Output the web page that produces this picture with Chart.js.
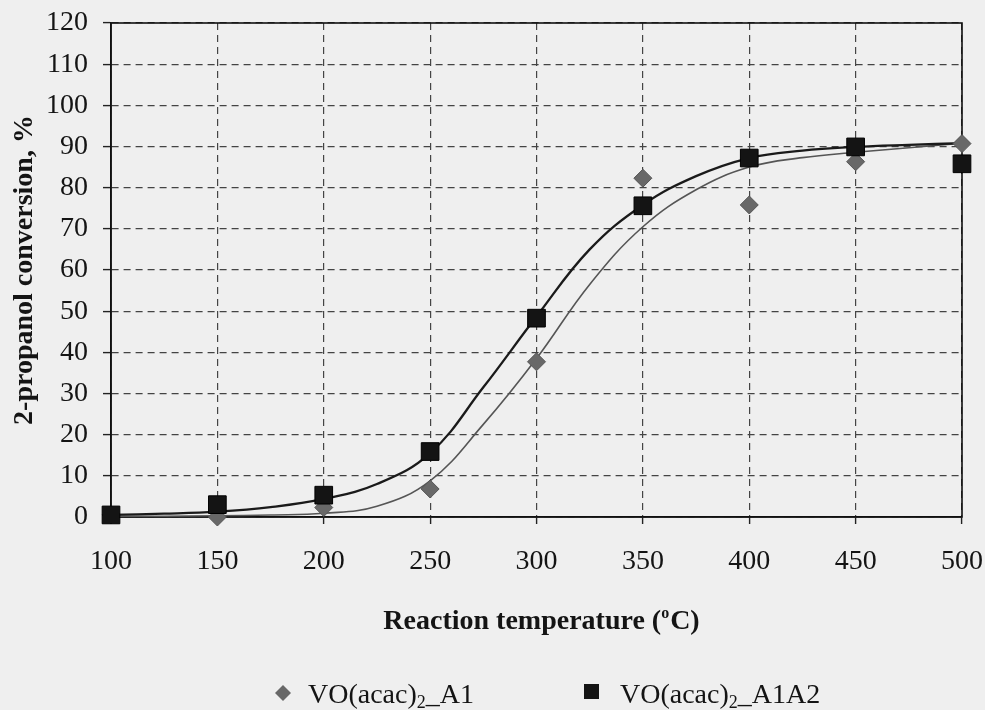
<!DOCTYPE html>
<html>
<head>
<meta charset="utf-8">
<title>2-propanol conversion vs reaction temperature</title>
<script src="https://cdn.jsdelivr.net/npm/chart.js@4.4.1/dist/chart.umd.min.js"></script>
<style>
  html, body { margin: 0; padding: 0; background: #efefef; }
  #wrap { width: 985px; height: 710px; position: relative; }
</style>
</head>
<body>
<div id="wrap"><canvas id="chart" width="985" height="710"></canvas></div>
<script>
// Measured conversions (%) at each reaction temperature (°C)
const temperatures = [100, 150, 200, 250, 300, 350, 400, 450, 500];
const convA1       = [0.5, 0.0, 2.3, 6.8, 37.7, 82.3, 75.8, 86.3, 90.7];
const convA1A2     = [0.5, 3.0, 5.3, 15.9, 48.3, 75.6, 87.2, 89.9, 85.8];

// Fitted trend curves, sampled every 25 °C
const fitTemperatures = [100, 125, 150, 175, 200, 225, 250, 275, 300, 325, 350, 375, 400, 425, 450, 475, 500];
const fitA1   = [0.2, 0.2, 0.3, 0.5, 0.9, 2.6, 8.8, 22.5, 38.5, 56.5, 70.5, 79.5, 85.0, 87.3, 88.6, 89.7, 90.8];
const fitA1A2 = [0.5, 0.8, 1.3, 2.4, 4.4, 8.0, 15.5, 31.5, 48.7, 65.0, 75.8, 82.8, 87.2, 89.0, 89.9, 90.4, 90.8];

// Axis ticks
const xTicks = [100, 150, 200, 250, 300, 350, 400, 450, 500];
const yTicks = [0, 10, 20, 30, 40, 50, 60, 70, 80, 90, 100, 110, 120];

// Series names: main text, subscript, trailing text
const seriesA1   = { main: 'VO(acac)', sub: '2', tail: '_A1' };
const seriesA1A2 = { main: 'VO(acac)', sub: '2', tail: '_A1A2' };

const SERIF = '"Liberation Serif", "Times New Roman", serif';
const INK = '#141414';
const GREY_MARK = '#686868';

const toPoints = (xs, ys) => xs.map((x, i) => ({ x: x, y: ys[i] }));
const fullName = s => s.main + s.sub + s.tail;

// Solid frame around the plot area
const framePlugin = {
  id: 'frame',
  beforeDatasetsDraw(chart) {
    const a = chart.chartArea, ctx = chart.ctx;
    ctx.save();
    ctx.strokeStyle = '#111';
    ctx.lineWidth = 1.6;
    ctx.strokeRect(a.left, a.top, a.right - a.left, a.bottom - a.top);
    ctx.restore();
  }
};

// X-axis title with superscript and legend with subscripts
const textPlugin = {
  id: 'texts',
  afterDraw(chart) {
    const ctx = chart.ctx;
    ctx.save();
    ctx.fillStyle = INK;
    ctx.textBaseline = 'alphabetic';
    ctx.textAlign = 'left';

    // x-axis title: Reaction temperature (°C)
    const bold = 'bold 28px ' + SERIF;
    const supFont = 'bold 16px ' + SERIF;
    const p1 = 'Reaction temperature (', sup = 'o', p2 = 'C)';
    ctx.font = bold;
    const w1 = ctx.measureText(p1).width, w3 = ctx.measureText(p2).width;
    ctx.font = supFont;
    const w2 = ctx.measureText(sup).width;
    const total = w1 + w2 + 1 + w3;
    const cx = (chart.chartArea.left + chart.chartArea.right) / 2 + 5;
    let x = cx - total / 2;
    const base = 629;
    ctx.font = bold;
    ctx.fillText(p1, x, base);
    x += w1;
    ctx.font = supFont;
    ctx.fillText(sup, x, base - 11);
    x += w2 + 1;
    ctx.font = bold;
    ctx.fillText(p2, x, base);

    // legend
    const drawName = (s, x0, y0) => {
      ctx.font = '28px ' + SERIF;
      ctx.fillText(s.main, x0, y0);
      let xx = x0 + ctx.measureText(s.main).width;
      ctx.font = '18px ' + SERIF;
      ctx.fillText(s.sub, xx, y0 + 5);
      xx += ctx.measureText(s.sub).width;
      ctx.font = '28px ' + SERIF;
      ctx.fillText(s.tail, xx, y0);
    };
    const legY = 703;
    // diamond marker
    ctx.beginPath();
    ctx.moveTo(283, 685); ctx.lineTo(291, 693); ctx.lineTo(283, 701); ctx.lineTo(275, 693);
    ctx.closePath();
    ctx.fillStyle = GREY_MARK; ctx.fill();
    ctx.fillStyle = INK;
    drawName(seriesA1, 308, legY);
    // square marker
    ctx.fillStyle = INK;
    ctx.fillRect(584, 684, 15, 15);
    drawName(seriesA1A2, 620, legY);
    ctx.restore();
  }
};

const gridDash = [7, 5];

new Chart(document.getElementById('chart'), {
  type: 'line',
  data: {
    datasets: [
      {
        label: fullName(seriesA1),
        data: toPoints(temperatures, convA1),
        showLine: false,
        pointStyle: 'rectRot',
        pointRadius: 9,
        backgroundColor: GREY_MARK,
        borderColor: '#555',
        borderWidth: 1,
        clip: false,
        order: 1
      },
      {
        label: fullName(seriesA1A2),
        data: toPoints(temperatures, convA1A2),
        showLine: false,
        pointStyle: 'rect',
        pointRadius: 12.5,
        backgroundColor: INK,
        borderColor: '#000',
        borderWidth: 1,
        clip: false,
        order: 0
      },
      {
        label: 'fit A1',
        data: toPoints(fitTemperatures, fitA1),
        borderColor: '#555',
        borderWidth: 1.6,
        pointRadius: 0,
        tension: 0.4,
        fill: false,
        order: 3
      },
      {
        label: 'fit A1A2',
        data: toPoints(fitTemperatures, fitA1A2),
        borderColor: '#1a1a1a',
        borderWidth: 2.3,
        pointRadius: 0,
        tension: 0.4,
        fill: false,
        order: 2
      }
    ]
  },
  options: {
    responsive: false,
    animation: false,
    devicePixelRatio: 1,
    layout: { padding: { left: 0, top: 23, right: 23, bottom: 131 } },
    plugins: {
      legend: { display: false },
      tooltip: { enabled: false }
    },
    scales: {
      x: {
        type: 'linear',
        min: 100,
        max: 500,
        afterBuildTicks: s => { s.ticks = xTicks.map(v => ({ value: v })); },
        afterFit: s => { s.height = 62; s.paddingLeft = 0; s.paddingRight = 0; },
        grid: { color: '#444', lineWidth: 1.2, tickLength: 7, tickColor: '#222', tickWidth: 1.4 },
        border: { display: true, color: '#111', width: 1.6, dash: gridDash },
        ticks: {
          font: { family: SERIF, size: 28 },
          color: INK,
          padding: 21,
          maxRotation: 0,
          autoSkip: false
        }
      },
      y: {
        min: 0,
        max: 120,
        afterBuildTicks: s => { s.ticks = yTicks.map(v => ({ value: v })); },
        afterFit: s => { s.width = 111; s.paddingTop = 0; s.paddingBottom = 0; },
        grid: { color: '#444', lineWidth: 1.2, tickLength: 8, tickColor: '#222', tickWidth: 1.4 },
        border: { display: true, color: '#111', width: 1.6, dash: gridDash },
        ticks: {
          font: { family: SERIF, size: 28 },
          color: INK,
          padding: 15,
          autoSkip: false
        },
        title: {
          display: true,
          text: '2-propanol conversion, %',
          font: { family: SERIF, size: 28, weight: 'bold' },
          color: INK,
          padding: { top: 8, bottom: 0 }
        }
      }
    }
  },
  plugins: [framePlugin, textPlugin]
});
</script>
</body>
</html>
